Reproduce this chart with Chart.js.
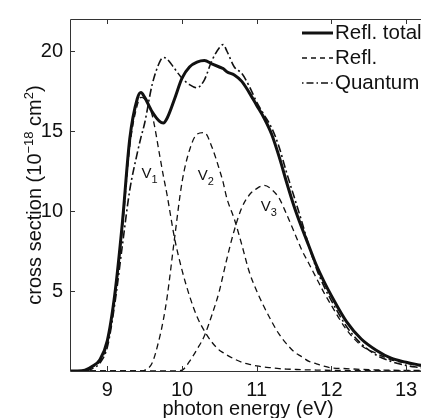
<!DOCTYPE html>
<html>
<head>
<meta charset="utf-8">
<script src="https://cdn.jsdelivr.net/npm/chart.js@4/dist/chart.umd.min.js"></script>
<style>
  html, body { margin: 0; padding: 0; background: #fff; overflow: hidden; }
  #chart { display: block; }
</style>
</head>
<body>
<canvas id="chart" width="445" height="418"></canvas>
<script>
// photon energy (eV), shared by every curve
const energy = [
  8.5, 8.6, 8.7, 8.8, 8.9, 9.0, 9.1, 9.2, 9.3, 9.4,
  9.45, 9.5, 9.6, 9.7, 9.75, 9.8, 9.9, 10.0,
  10.1, 10.2, 10.3, 10.4, 10.5, 10.55, 10.6, 10.7, 10.8, 10.9,
  11.0, 11.1, 11.2, 11.3, 11.4, 11.5, 11.6, 11.7, 11.8, 11.9,
  12.0, 12.2, 12.4, 12.6, 12.8, 13.0, 13.2
];
// cross sections, 10^-18 cm^2
const reflTotal = [
  0, 0, 0.05, 0.3, 0.7, 1.9, 4.8, 9.2, 14.5, 17.0,
  17.4, 17.1, 16.2, 15.6, 15.5, 15.8, 17.0, 18.3,
  19.0, 19.3, 19.4, 19.2, 19.0, 18.9, 18.7, 18.5, 18.1, 17.4,
  16.6, 15.8, 14.8, 13.4, 11.8, 10.3, 9.0, 7.8, 6.6, 5.6,
  4.7, 3.1, 2.0, 1.3, 0.8, 0.55, 0.35
];
const quantum = [
  0, 0, 0, 0.15, 0.5, 1.5, 4.2, 7.8, 11.3, 13.6,
  14.6, 15.5, 17.9, 19.3, 19.6, 19.5, 18.9, 18.3,
  17.9, 17.7, 18.2, 19.4, 20.2, 20.4, 20.0, 19.0, 18.6, 17.8,
  16.8, 16.0, 15.2, 14.0, 12.4, 10.9, 9.4, 7.8, 6.4, 5.3,
  4.4, 2.8, 1.7, 1.0, 0.6, 0.35, 0.2
];
const reflV1 = [
  0, 0, 0.05, 0.25, 0.6, 1.7, 4.5, 8.8, 14.0, 16.6,
  17.1, 17.0, 16.0, 13.5, 12.2, 11.0, 8.3, 6.3,
  4.7, 3.4, 2.5, 1.8, 1.3, 1.15, 1.0, 0.75, 0.55, 0.42,
  0.32, 0.25, 0.2, 0.15, 0.12, 0.1, 0.08, 0.07, 0.06, 0.05,
  0.04, 0.03, 0.02, 0.02, 0.01, 0.01, 0.01
];
const reflV2 = [
  0, 0, 0, 0, 0, 0, 0, 0, 0, 0,
  0, 0.05, 0.5, 2.1, 3.2, 4.6, 8.3, 11.8,
  13.8, 14.8, 14.9, 14.0, 12.6, 11.8, 10.8, 9.5, 7.9, 6.2,
  5.0, 4.0, 3.1, 2.3, 1.7, 1.2, 0.9, 0.6, 0.45, 0.3,
  0.2, 0.15, 0.1, 0.07, 0.05, 0.04, 0.03
];
const reflV3 = [
  0, 0, 0, 0, 0, 0, 0, 0, 0, 0,
  0, 0, 0, 0, 0, 0, 0, 0.05,
  0.6, 1.35, 2.2, 3.5, 5.0, 6.0, 7.0, 8.8, 10.2, 11.0,
  11.4, 11.6, 11.35, 10.8, 9.8, 8.7, 7.6, 6.7, 5.8, 4.9,
  4.1, 2.6, 1.6, 1.1, 0.7, 0.5, 0.3
];
const xTickValues = [9, 10, 11, 12, 13];
const yTickValues = [5, 10, 15, 20];
const legendLabels = ['Refl. total', 'Refl.', 'Quantum'];
const peakNames = ['1', '2', '3'];

const INK = '#111';
const AXIS = '#333';
const FONT = '"Liberation Sans", Arial, Helvetica, sans-serif';

const pts = (vals) => vals.map((v, i) => ({ x: energy[i], y: v }));
const dashedSet = (vals) => ({
  data: pts(vals), borderColor: INK, borderWidth: 1.3, borderDash: [6, 4],
});

// ticks inside the frame, matlab style
function innerTicks(chart) {
  const { ctx, chartArea: { left, right, top, bottom }, scales: { x, y } } = chart;
  ctx.save();
  ctx.strokeStyle = AXIS;
  ctx.lineWidth = 1;
  ctx.beginPath();
  ctx.moveTo(right + 1, top + 0.5);
  ctx.lineTo(left + 0.5, top + 0.5);
  ctx.lineTo(left + 0.5, bottom + 0.5);
  ctx.lineTo(right + 1, bottom + 0.5);
  xTickValues.forEach(v => {
    const px = Math.round(x.getPixelForValue(v)) + 0.5;
    ctx.moveTo(px, bottom); ctx.lineTo(px, bottom - 5);
    ctx.moveTo(px, top); ctx.lineTo(px, top + 5);
  });
  yTickValues.forEach(v => {
    const py = Math.round(y.getPixelForValue(v)) + 0.5;
    ctx.moveTo(left, py); ctx.lineTo(left + 5, py);
  });
  ctx.stroke();
  ctx.restore();
}

function drawRuns(ctx, runs, x0, base) {
  // runs: [text, size, rise]
  let cx = x0;
  runs.forEach(([t, size, rise]) => {
    ctx.font = `${size}px ${FONT}`;
    ctx.fillText(t, cx, base - rise);
    cx += ctx.measureText(t).width;
  });
}
function runsWidth(ctx, runs) {
  return runs.reduce((w, [t, size]) => { ctx.font = `${size}px ${FONT}`; return w + ctx.measureText(t).width; }, 0);
}

const decorPlugin = {
  id: 'decor',
  afterDraw(chart) {
    const { ctx, chartArea: { left, right, top, bottom }, scales: { x, y } } = chart;
    innerTicks(chart);
    ctx.save();
    ctx.fillStyle = INK;
    ctx.textBaseline = 'alphabetic';

    // y title with superscripts
    const yRuns = [['cross section (10', 20, 0], ['\u221218', 13, 8], [' cm', 20, 0], ['2', 13, 8], [')', 20, 0]];
    ctx.save();
    ctx.translate(41, (top + bottom) / 2);
    ctx.rotate(-Math.PI / 2);
    drawRuns(ctx, yRuns, -runsWidth(ctx, yRuns) / 2, 0);
    ctx.restore();

    // x title
    ctx.font = `20px ${FONT}`;
    ctx.textAlign = 'center';
    ctx.fillText('photon energy (eV)', 248, 415);
    ctx.textAlign = 'left';

    // peak labels V1..V3
    const spots = [[9.456, 12.07], [10.21, 11.96], [11.055, 10.02]];
    peakNames.forEach((n, i) => {
      const px = x.getPixelForValue(spots[i][0]);
      const py = y.getPixelForValue(spots[i][1]);
      drawRuns(ctx, [['V', 15, 0], [n, 11, -5]], px, py);
    });

    // legend
    const styles = [
      { w: 3, dash: [] },
      { w: 1.3, dash: [5, 4] },
      { w: 1.5, dash: [1.5, 3, 7, 3] },
    ];
    legendLabels.forEach((lab, i) => {
      const base = 39 + i * 25;
      ctx.save();
      ctx.strokeStyle = INK;
      ctx.lineWidth = styles[i].w;
      ctx.setLineDash(styles[i].dash);
      ctx.beginPath();
      ctx.moveTo(302, base - 6);
      ctx.lineTo(333, base - 6);
      ctx.stroke();
      ctx.restore();
      ctx.font = `20.5px ${FONT}`;
      ctx.fillText(lab, 335, base);
    });
    ctx.restore();
  }
};

new Chart(document.getElementById('chart'), {
  type: 'line',
  data: {
    datasets: [
      dashedSet(reflV1),
      dashedSet(reflV2),
      dashedSet(reflV3),
      { data: pts(quantum), borderColor: INK, borderWidth: 1.6, borderDash: [8, 3, 2, 3] },
      { data: pts(reflTotal), borderColor: INK, borderWidth: 3 },
    ],
  },
  options: {
    responsive: false,
    animation: false,
    devicePixelRatio: 1,
    layout: { padding: { top: 14, right: 24, left: 0, bottom: 0 } },
    elements: {
      point: { radius: 0 },
      line: { cubicInterpolationMode: 'monotone', fill: false },
    },
    plugins: { legend: { display: false }, tooltip: { enabled: false } },
    scales: {
      x: {
        type: 'linear', min: 8.5, max: 13.2,
        grid: { display: false, drawTicks: false }, border: { display: false },
        afterBuildTicks: (s) => { s.ticks = xTickValues.map(v => ({ value: v })); },
        afterFit: (s) => { s.height = 47; },
        ticks: { color: INK, padding: 7, font: { family: FONT, size: 20 } },
      },
      y: {
        type: 'linear', min: 0, max: 22,
        grid: { display: false, drawTicks: false }, border: { display: false },
        afterBuildTicks: (s) => { s.ticks = yTickValues.map(v => ({ value: v })); },
        afterFit: (s) => { s.width = 70; },
        ticks: { color: INK, padding: 7, font: { family: FONT, size: 20 } },
      },
    },
  },
  plugins: [decorPlugin],
});
</script>
</body>
</html>
